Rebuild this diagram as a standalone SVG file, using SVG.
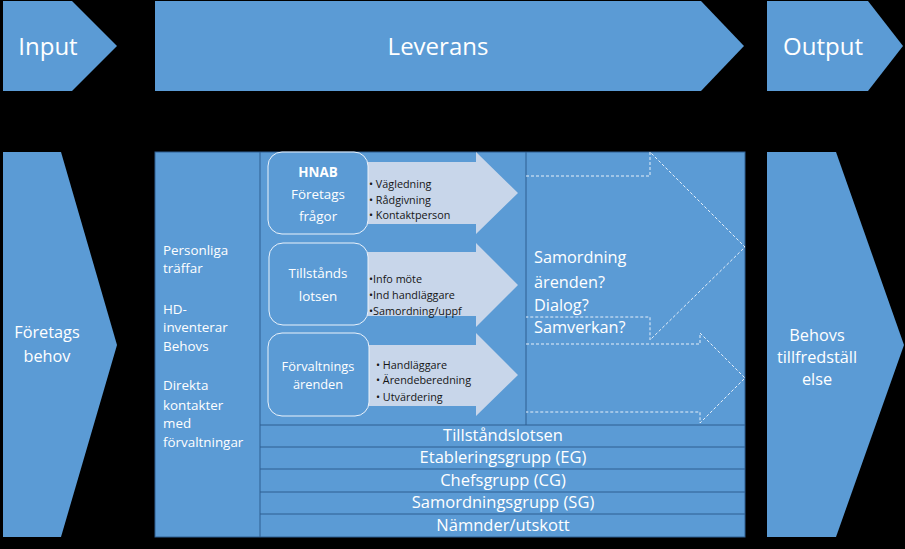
<svg xmlns="http://www.w3.org/2000/svg" width="905" height="549" viewBox="0 0 905 549">
<style>
.b{fill:#5b9bd5}
.bx{fill:#5b9bd5;stroke:#eaf2fb;stroke-width:1}
.la{fill:#c8d6ea}
.ln{stroke:#2f5f91;stroke-width:1;fill:none}
.da{fill:none;stroke:#e6eff9;stroke-width:1;stroke-dasharray:3 2}
text{font-family:"Open Sans","Liberation Sans",sans-serif}
.w{fill:#ffffff}
.k{fill:#151515;font-size:10.8px}
.c{text-anchor:middle}
.h{font-size:24px}
.s{font-size:13.4px}
.s2{font-size:12.8px}
.r{font-size:16.5px}
.m{font-size:16.3px}
</style>
<rect width="905" height="549" fill="#000"/>
<g id="input">
<polygon class="b" points="3,1 72,1 117,46 72,91 3,91"/>
<text class="w c h" x="48" y="55">Input</text>
</g>
<g id="leverans">
<polygon class="b" points="155,1 701,1 744,46 701,91 155,91"/>
<text class="w c h" x="438" y="55">Leverans</text>
</g>
<g id="output">
<polygon class="b" points="767,1 868,1 903,46 868,91 767,91"/>
<text class="w c h" x="823" y="55">Output</text>
</g>
<g id="foretagsbehov">
<polygon class="b" points="3,152 61,152 117,345 61,537 3,537"/>
<text class="w c m" x="47" y="338">Företags</text>
<text class="w c m" x="47" y="362">behov</text>
</g>
<g id="behovs">
<polygon class="b" points="767,152 836,152 904,345 836,537 767,537"/>
<text class="w c m" x="817" y="341">Behovs</text>
<text class="w c m" x="817" y="363">tillfredställ</text>
<text class="w c m" x="817" y="385">else</text>
</g>
<g id="main">
<rect class="b" x="155" y="152" width="590" height="385" stroke="#2f5f91" stroke-width="1"/>
</g>
<g id="grid">
<line class="ln" x1="260" y1="152" x2="260" y2="537"/>
<line class="ln" x1="526" y1="152" x2="526" y2="425"/>
<line class="ln" x1="260" y1="425" x2="745" y2="425"/>
<line class="ln" x1="260" y1="447" x2="745" y2="447"/>
<line class="ln" x1="260" y1="469" x2="745" y2="469"/>
<line class="ln" x1="260" y1="492" x2="745" y2="492"/>
<line class="ln" x1="260" y1="514" x2="745" y2="514"/>
</g>
<g id="leftcol">
<text class="w s" x="163" y="255">Personliga</text>
<text class="w s" x="163" y="273">träffar</text>
<text class="w s" x="163" y="314">HD-</text>
<text class="w s" x="163" y="332">inventerar</text>
<text class="w s" x="163" y="351">Behovs</text>
<text class="w s" x="163" y="390">Direkta</text>
<text class="w s" x="163" y="410">kontakter</text>
<text class="w s" x="163" y="428">med</text>
<text class="w s" x="163" y="447">förvaltningar</text>
</g>
<g id="connectors">
<polygon class="la" points="360,162 476,162 476,152 518,193 476,234 476,224 360,224"/>
<polygon class="la" points="360,252 476,252 476,243 518,285 476,327 476,316 360,316"/>
<polygon class="la" points="360,345 476,345 476,333 518,375 476,416 476,406 360,406"/>
<path class="da" d="M526,176 H650 V152 L745,247 L650,340 V317 H526"/>
<path class="da" d="M526,344 H700 V333 L745,378 L700,423 V412 H526"/>
</g>
<g id="hnab">
<rect class="bx" x="268" y="152" width="100" height="82" rx="14"/>
<text class="w c s" x="318" y="177" font-weight="bold">HNAB</text>
<text class="w c s" x="318" y="199">Företags</text>
<text class="w c s" x="318" y="221">frågor</text>
<text class="k" x="369" y="188">• Vägledning</text>
<text class="k" x="369" y="204">• Rådgivning</text>
<text class="k" x="369" y="219">• Kontaktperson</text>
</g>
<g id="tillstands">
<rect class="bx" x="269" y="243" width="99" height="82" rx="14"/>
<text class="w c s" x="318" y="278">Tillstånds</text>
<text class="w c s" x="318" y="301">lotsen</text>
<text class="k" x="369" y="283">•Info möte</text>
<text class="k" x="369" y="299">•Ind handläggare</text>
<text class="k" x="369" y="315">•Samordning/uppf</text>
</g>
<g id="forvaltnings">
<rect class="bx" x="268" y="333" width="101" height="83" rx="14"/>
<text class="w c s2" x="318" y="371">Förvaltnings</text>
<text class="w c s2" x="318" y="389">ärenden</text>
<text class="k" x="376" y="369">• Handläggare</text>
<text class="k" x="376" y="384">• Ärendeberedning</text>
<text class="k" x="376" y="401">• Utvärdering</text>
</g>
<g id="samordning">
<text class="w m" x="534" y="263">Samordning</text>
<text class="w m" x="534" y="288">ärenden?</text>
<text class="w m" x="534" y="311">Dialog?</text>
<text class="w m" x="534" y="333">Samverkan?</text>
</g>
<g id="rows">
<text class="w c r" x="503" y="441">Tillståndslotsen</text>
<text class="w c r" x="503" y="463">Etableringsgrupp (EG)</text>
<text class="w c r" x="503" y="486">Chefsgrupp (CG)</text>
<text class="w c r" x="503" y="508">Samordningsgrupp (SG)</text>
<text class="w c r" x="503" y="531">Nämnder/utskott</text>
</g>
</svg>
